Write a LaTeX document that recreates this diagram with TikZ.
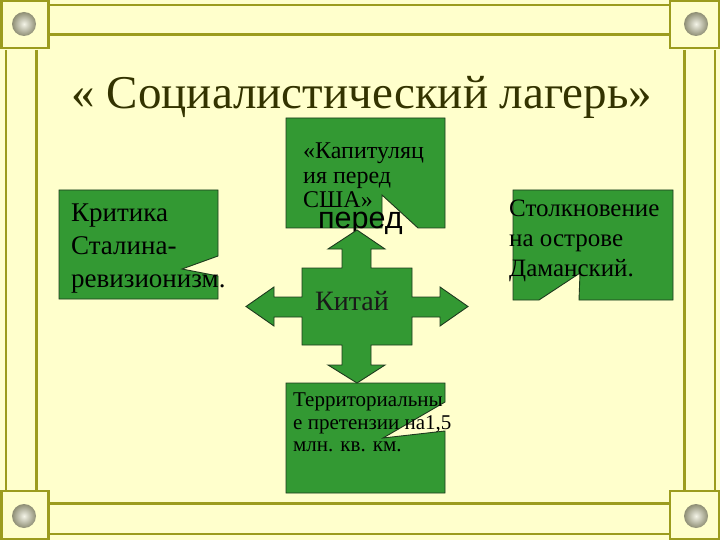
\documentclass[tikz,border=0pt]{standalone}
\usepackage{fontspec}
\setmainfont{Liberation Serif}
\newfontfamily\sansfnt{Liberation Sans}
\definecolor{bgyellow}{HTML}{FFFFCC}
\definecolor{olivefr}{HTML}{9C9C1E}
\definecolor{boxgreen}{HTML}{339933}
\definecolor{boxedge}{HTML}{1E3A1E}
\definecolor{titlecol}{HTML}{333300}
\definecolor{ballin}{HTML}{F4F4E8}
\definecolor{ballout}{HTML}{8E8E74}
\begin{document}
\begin{tikzpicture}[x=1pt,y=-1pt,
  thinline/.style={draw=olivefr, line width=1.3pt},
  thickline/.style={draw=olivefr, line width=3pt},
  cornerbox/.style={draw=olivefr, line width=2.5pt, fill=bgyellow},
  ballshade/.style={inner color=ballin, outer color=ballout},
  greenbox/.style={fill=boxgreen, draw=boxedge, line width=0.9pt, line join=miter},
  boxtext/.style={anchor=north west, inner sep=0pt, align=left, text=black}]
\fill[bgyellow] (0,0) rectangle (720,540);
\useasboundingbox (0,0) rectangle (720,540);
% frame bars
\draw[thinline] (50,5) -- (670,5);
\draw[thickline] (50,35) -- (670,35);
\draw[thickline] (50,503) -- (670,503);
\draw[thinline] (50,534) -- (670,534);
\draw[thinline] (6,50) -- (6,491);
\draw[thickline] (36,50) -- (36,491);
\draw[thickline] (684,50) -- (684,491);
\draw[thinline] (715,50) -- (715,491);
% corner squares
\draw[cornerbox] (1.25,1.25) rectangle (48.5,48);
\draw[cornerbox] (670,1.25) rectangle (718.75,48);
\draw[cornerbox] (1.25,491) rectangle (48.5,538.75);
\draw[cornerbox] (670,491) rectangle (718.75,538.75);
\shade[ballshade] (24,24) circle (12);
\shade[ballshade] (696,24) circle (12);
\shade[ballshade] (24,516) circle (12);
\shade[ballshade] (696,516) circle (12);
% title
\node[anchor=base, inner sep=0pt, text=titlecol, font=\fontsize{47}{52}\selectfont] (title) at (362,109) {« Социалистический лагерь»};
% left box
\draw[greenbox] (59,190) -- (218,190) -- (218,256) -- (182,269) -- (218,276) -- (218,299) -- (59,299) -- cycle;
\node[boxtext, font=\fontsize{27}{33}\selectfont] (critique) at (71,204) {Критика\\Сталина-\\ревизионизм.};
% right box
\draw[greenbox] (513,190) -- (673,190) -- (673,300) -- (579,300) -- (580,273) -- (539,300) -- (513,300) -- cycle;
\node[boxtext, font=\fontsize{25}{30}\selectfont] (clash) at (509,200) {Столкновение\\на острове\\Даманский.};
% top box
\draw[greenbox] (286,118) -- (445,118) -- (445,228) -- (418,228) -- (382,195) -- (382,228) -- (286,228) -- cycle;
\node[boxtext, font=\fontsize{24}{24.5}\selectfont] (capit) at (303,143) {«Капитуляц\\ия перед\\США»};
\node[anchor=base west, inner sep=0pt, font=\sansfnt\fontsize{30.5}{34}\selectfont] (pered) at (318,229) {перед};
% bottom box
\draw[greenbox] (286,383) -- (445,383) -- (445,402) -- (383,438) -- (445,431) -- (445,493) -- (286,493) -- cycle;
\node[boxtext, font=\fontsize{21}{22.5}\selectfont] (terr) at (293,393) {Территориальны\\е претензии на1,5\\млн. кв. км.};
% quad arrow
\draw[greenbox] (357,230) -- (385,249) -- (371,249) -- (371,268) -- (412,268) -- (412,297) -- (440,297) -- (440,287) -- (468,306.5) -- (440,326) -- (440,317) -- (412,317) -- (412,345) -- (371,345) -- (371,365) -- (385,365) -- (357,383) -- (328,365) -- (342,365) -- (342,345) -- (302,345) -- (302,317) -- (274,317) -- (274,326) -- (246,306.5) -- (274,287) -- (274,297) -- (302,297) -- (302,268) -- (342,268) -- (342,249) -- (328,249) -- cycle;
\node[inner sep=0pt, font=\fontsize{28}{32}\selectfont, text=black!90] (china) at (352,301) {Китай};
\end{tikzpicture}
\end{document}
